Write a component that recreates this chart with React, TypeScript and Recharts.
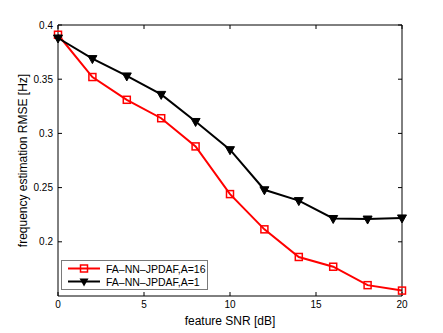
import React from 'react';
import {
  LineChart,
  Line,
  XAxis,
  YAxis,
  Legend,
} from 'recharts';

// SNR in dB on the x axis
const snrValues = [0, 2, 4, 6, 8, 10, 12, 14, 16, 18, 20];
const rmseA16 = [0.391, 0.352, 0.331, 0.314, 0.288, 0.244, 0.2115, 0.186, 0.177, 0.16, 0.155];
const rmseA1 = [0.388, 0.369, 0.353, 0.336, 0.311, 0.285, 0.248, 0.238, 0.2215, 0.221, 0.222];

const xTicks = [0, 5, 10, 15, 20];
const yTicks = [0.2, 0.25, 0.3, 0.35, 0.4];

const seriesNames = ['FA\u2013NN\u2013JPDAF,A=16', 'FA\u2013NN\u2013JPDAF,A=1'];

const font = '"Liberation Sans", Arial, Helvetica, sans-serif';

const data = snrValues.map((snr, i) => ({
  snr,
  a16: rmseA16[i],
  a1: rmseA1[i],
}));

const SquareDot = (props: any) => {
  const { cx, cy } = props;
  if (cx == null || cy == null) return null;
  return (
    <rect
      key={`sq-${props.index}`}
      x={cx - 3.5}
      y={cy - 3.5}
      width={7}
      height={7}
      fill="none"
      stroke="#ff0000"
      strokeWidth={1.5}
    />
  );
};

const TriangleDot = (props: any) => {
  const { cx, cy } = props;
  if (cx == null || cy == null) return null;
  return (
    <polygon
      key={`tri-${props.index}`}
      points={`${cx - 4.5},${cy - 3} ${cx + 4.5},${cy - 3} ${cx},${cy + 5}`}
      fill="#000"
      stroke="#000"
      strokeWidth={1}
    />
  );
};

const LegendBox = () => (
  <div
    style={{
      border: '1.5px solid #7a7a7a',
      background: '#fff',
      fontFamily: font,
      fontSize: 10.5,
      padding: '1px 0',
      width: 147,
      boxSizing: 'border-box',
      whiteSpace: 'nowrap',
    }}
  >
    {seriesNames.map((name, i) => (
      <div key={name} style={{ display: 'flex', alignItems: 'center', height: 13 }}>
        <svg width={44} height={13} style={{ flex: 'none' }}>
          <line x1={6} y1={6.5} x2={38} y2={6.5} stroke={i === 0 ? '#ff0000' : '#000'} strokeWidth={2} />
          {i === 0 ? (
            <rect x={18.5} y={3} width={7} height={7} fill="none" stroke="#ff0000" strokeWidth={1.5} />
          ) : (
            <polygon points="17.5,3.5 26.5,3.5 22,11.5" fill="#000" />
          )}
        </svg>
        <span style={{ color: '#000' }}>{name}</span>
      </div>
    ))}
  </div>
);

const App: React.FC = () => {
  const tickStyle = { fontSize: 10, fill: '#000', fontFamily: font };
  return (
    <div style={{ position: 'absolute', left: 0, top: 0, background: '#fff' }}>
      <LineChart
        width={443}
        height={333}
        data={data}
        margin={{ top: 24, right: 40, left: 0, bottom: 0 }}
      >
        <XAxis
          dataKey="snr"
          type="number"
          domain={[0, 20]}
          ticks={xTicks}
          tickSize={-4}
          tickMargin={9}
          height={37}
          tick={tickStyle}
          stroke="#000"
          label={{
            value: 'feature SNR [dB]',
            position: 'insideBottom',
            offset: 8,
            style: { fontSize: 12, fill: '#000', fontFamily: font },
          }}
        />
        <XAxis
          xAxisId="top"
          orientation="top"
          dataKey="snr"
          type="number"
          domain={[0, 20]}
          ticks={xTicks}
          tickSize={-4}
          height={1}
          tickFormatter={() => ''}
          stroke="#000"
        />
        <YAxis
          type="number"
          domain={[0.15, 0.4]}
          ticks={yTicks}
          tickSize={-4}
          tickMargin={9}
          width={58}
          tick={tickStyle}
          stroke="#000"
          label={{
            value: 'frequency estimation RMSE [Hz]',
            angle: -90,
            position: 'center',
            dx: -6,
            style: { fontSize: 12, fill: '#000', fontFamily: font, textAnchor: 'middle' },
          }}
        />
        <YAxis
          yAxisId="right"
          orientation="right"
          type="number"
          domain={[0.15, 0.4]}
          ticks={yTicks}
          tickSize={-4}
          width={1}
          tickFormatter={() => ''}
          stroke="#000"
        />
        <Legend
          layout="horizontal"
          verticalAlign="middle"
          content={() => <LegendBox />}
          wrapperStyle={{ left: 61, top: 260, width: 147 }}
        />
        <Line
          dataKey="a16"
          name={seriesNames[0]}
          stroke="#ff0000"
          strokeWidth={2}
          dot={SquareDot}
          activeDot={false}
          isAnimationActive={false}
        />
        <Line
          dataKey="a1"
          xAxisId="top"
          yAxisId="right"
          name={seriesNames[1]}
          stroke="#000"
          strokeWidth={2}
          dot={TriangleDot}
          activeDot={false}
          isAnimationActive={false}
        />
      </LineChart>
    </div>
  );
};

export default App;
